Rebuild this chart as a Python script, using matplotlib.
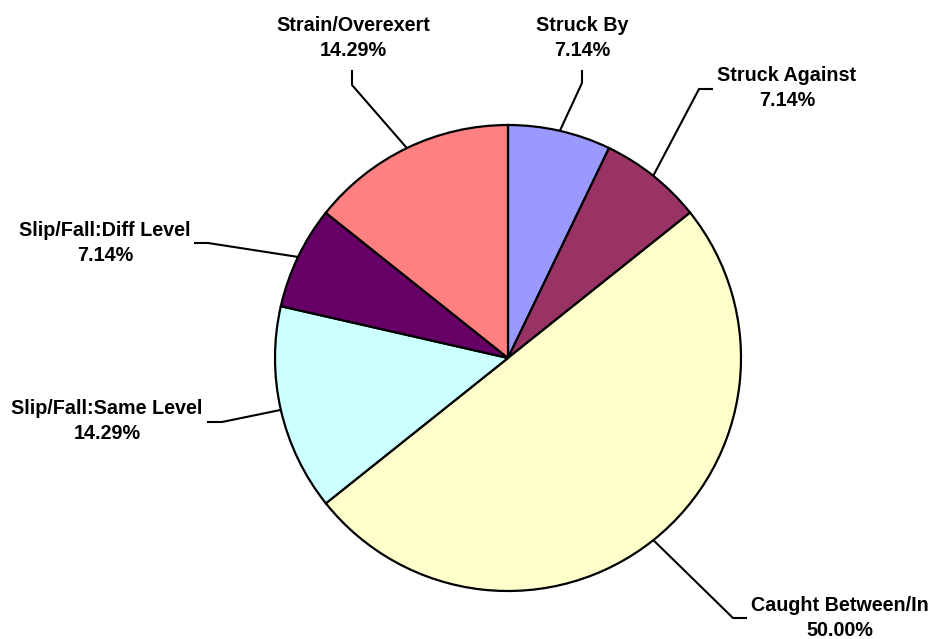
import numpy as np
import matplotlib
matplotlib.use("Agg")
import matplotlib.pyplot as plt

categories = ["Struck By", "Struck Against", "Caught Between/In",
              "Slip/Fall:Same Level", "Slip/Fall:Diff Level", "Strain/Overexert"]
values = [7.14, 7.14, 50.00, 14.29, 7.14, 14.29]
colors = ["#9999FF", "#993366", "#FFFFCC", "#CCFFFF", "#660066", "#FF8080"]

W, H = 935, 639
fig = plt.figure(figsize=(W / 100, H / 100), dpi=100)
ax = fig.add_axes([0, 0, 1, 1])

cx, cy, R = 508, H - 358, 233
wedges, _ = ax.pie(values, colors=colors, startangle=90, counterclock=False,
                   center=(cx, cy), radius=R, frame=True,
                   wedgeprops=dict(edgecolor="black", linewidth=1.6))
ax.set_xlim(0, W)
ax.set_ylim(0, H)
ax.set_aspect("equal")
ax.axis("off")

# layout: label block centre, elbow point, end point (pixel coords from top)
layout = {
    "Struck By": ((582, 38), (582, 83), (582, 70)),
    "Struck Against": ((787, 88), (699, 89), (713, 89)),
    "Caught Between/In": ((840, 618), (733, 618), (747, 618)),
    "Slip/Fall:Same Level": ((107, 421), (222, 422), (207, 422)),
    "Slip/Fall:Diff Level": ((105, 243), (208, 243), (194, 243)),
    "Strain/Overexert": ((353, 38), (352, 85), (352, 70)),
}

for w, cat, v in zip(wedges, categories, values):
    mid = np.deg2rad((w.theta1 + w.theta2) / 2)
    ax_, ay_ = cx + R * np.cos(mid), cy + R * np.sin(mid)
    (tx, ty), (ex, ey), (fx, fy) = layout[cat]
    ax.plot([ax_, ex, fx], [ay_, H - ey, H - fy], color="black", lw=1.5,
            solid_capstyle="butt", zorder=1)
    ax.text(tx, H - ty, f"{cat}\n{v:.2f}%", ha="center", va="center",
            multialignment="center", fontsize=14.2, fontweight="bold",
            family=["Liberation Sans", "DejaVu Sans"], linespacing=1.45,
            color="black")

fig.savefig("out.png", dpi=100, facecolor="white")
